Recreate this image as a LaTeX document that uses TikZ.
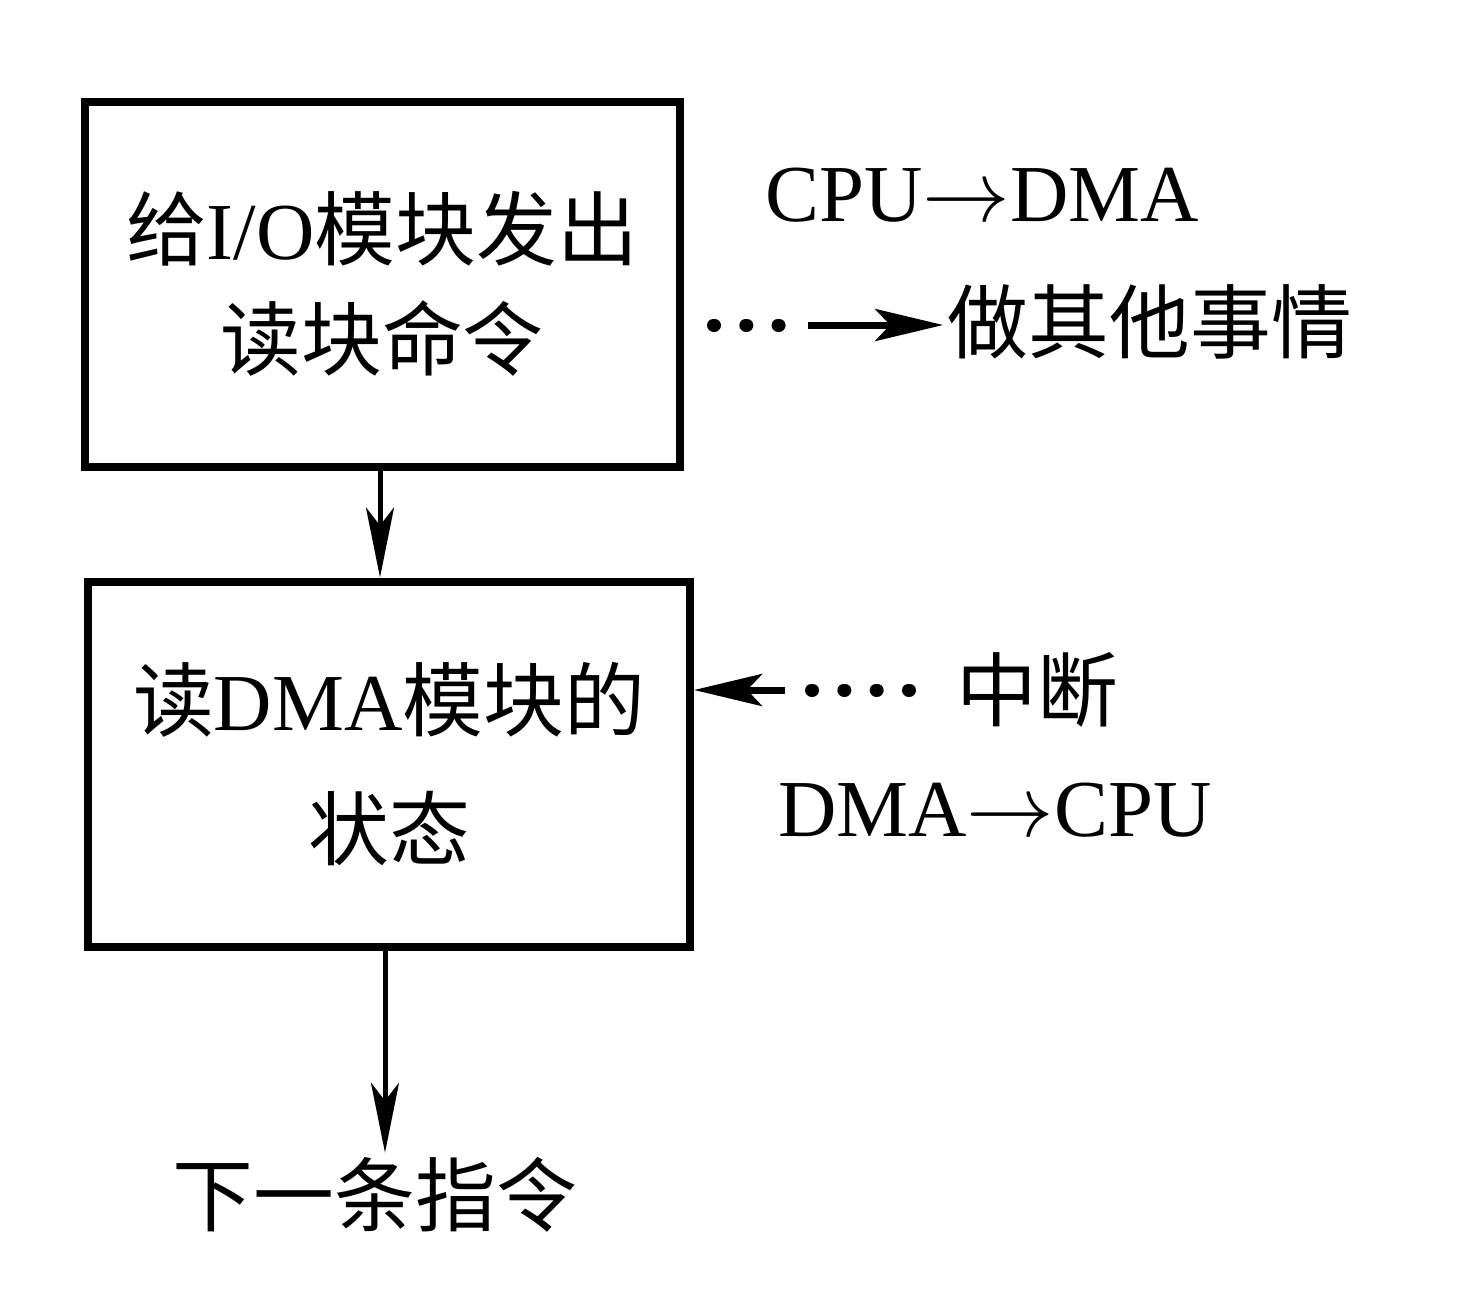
\documentclass[tikz,border=0pt]{standalone}
\usepackage{fontspec}
\setmainfont{Liberation Serif}
\newfontfamily\cjk{Noto Sans CJK SC}
\newcommand{\zh}[1]{{\cjk #1}}
\usetikzlibrary{arrows.meta,positioning}

\begin{document}
\begin{tikzpicture}[
        every node/.style={align=center, font=\fontsize{23}{28}\selectfont},
        stepbox/.style={draw, line width=0.08cm, minimum width=5.95cm, minimum height=3.65cm},
        label/.style={inner sep=0.04cm},
        flow/.style={line width=0.05cm, -{Stealth[length=0.7cm, width=0.28cm, inset=0.18cm]}},
        sideflow/.style={line width=0.07cm, -{Stealth[length=0.68cm, width=0.32cm, inset=0.15cm]}},
        dots/.style={line width=0.13cm, line cap=round, dash pattern=on 0.01cm off 0.313cm}
    ]
    \useasboundingbox (0,0) rectangle (14.72,-12.92);

    % Nodes
    \node[stepbox] (issue) at (3.82,-2.84) {\zh{给}I/O\zh{模块发出} \\[0.12cm] \zh{读块命令}};
    \node[stepbox, minimum width=6.02cm] (status) at (3.89,-7.64) {\zh{读}DMA\zh{模块的} \\[0.3cm] \zh{状态}};
    \node[label] (next) at (3.75,-11.95) {\zh{下一条指令}};

    \node[label] (c2d) at (9.82,-1.95) {CPU$\mathord{\rightarrow}$DMA};
    \node[label] (other) at (11.5,-3.22) {\zh{做其他事情}};
    \node[label] (intr) at (10.37,-6.9) {\zh{中断}};
    \node[label] (d2c) at (9.95,-8.1) {DMA$\mathord{\rightarrow}$CPU};

    \coordinate (d1) at (8.08,-3.25);
    \coordinate (d2) at (7.85,-6.9);

    % Connectors
    \draw[flow] (issue.south -| 3.8,0) -- (3.8,0 |- status.north);
    \draw[flow] (status.south -| 3.85,0) -- (3.85,0 |- next.north);

    \draw[dots, shorten <=0.3cm] (issue.east |- d1) -- (d1);
    \draw[sideflow] (d1) -- (other.west |- d1);

    \draw[dots, shorten <=0.42cm] (intr.west) -- (d2);
    \draw[sideflow] (d2) -- (status.east |- d2);

\end{tikzpicture}
\end{document}
